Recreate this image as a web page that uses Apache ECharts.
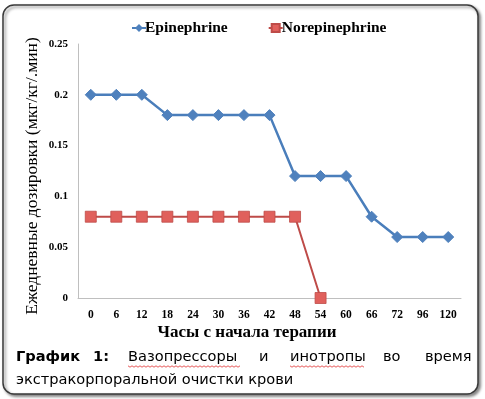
<!DOCTYPE html>
<html><head><meta charset="utf-8">
<script src="https://cdn.jsdelivr.net/npm/echarts@6/dist/echarts.min.js"></script>
<style>html,body{margin:0;padding:0;background:#fff;}#c{width:485px;height:399px;}</style>
</head><body><div id="c"></div>
<script>
const categories = ['0','6','12','18','24','30','36','42','48','54','60','66','72','96','120'];
const epinephrine = [0.2,0.2,0.2,0.18,0.18,0.18,0.18,0.18,0.12,0.12,0.12,0.08,0.06,0.06,0.06];
const norepinephrine = [0.08,0.08,0.08,0.08,0.08,0.08,0.08,0.08,0.08,0,'-','-','-','-','-'];
const yTicks = [0,0.05,0.1,0.15,0.2,0.25];
const seriesNames = ['Epinephrine','Norepinephrine'];
const xTitle = 'Часы с начала терапии';
const yTitle = 'Ежедневные дозировки (мкг/кг/.мин)';

const serif = '"Liberation Serif","Times New Roman",serif';
const sans = '"DejaVu Sans",Verdana,sans-serif';
const chart = echarts.init(document.getElementById('c'), null, {renderer:'canvas'});

function cap(text, x, y, bold) {
  return {type:'text', x:x, y:y, z:10, style:{text:text, fill:'#000', font:(bold?'bold ':'')+'14.6px '+sans, textVerticalAlign:'middle'}};
}
function wavy(x0, x1, y) {
  const pts = [];
  for (let x = x0, i = 0; x <= x1; x += 2, i++) pts.push([x, y + (i % 2 ? 1.2 : -0.2)]);
  return {type:'polyline', z:10, shape:{points:pts}, style:{stroke:'#e03030', lineWidth:0.8, fill:null}};
}

chart.setOption({
  animation:false,
  backgroundColor:'#fff',
  grid:{left:78, right:24, top:44, bottom:101, containLabel:false},
  legend:{
    data:seriesNames, left:126, top:15, itemWidth:14, itemHeight:10, itemGap:40,
    textStyle:{fontFamily:serif, fontWeight:'bold', fontSize:15.5, color:'#000', padding:[0,0,0,-6]}
  },
  xAxis:{
    type:'category', data:categories, boundaryGap:true,
    axisLine:{lineStyle:{color:'#bfbfbf', width:1}},
    axisTick:{show:false},
    axisLabel:{color:'#000', fontFamily:serif, fontWeight:'bold', fontSize:11.5, margin:11, interval:0}
  },
  yAxis:{
    type:'value', min:yTicks[0], max:yTicks[yTicks.length-1], interval:0.05,
    axisLine:{show:true, lineStyle:{color:'#bfbfbf', width:1}},
    axisTick:{show:false},
    splitLine:{show:false},
    axisLabel:{color:'#000', fontFamily:serif, fontWeight:'bold', fontSize:11, margin:10}
  },
  series:[
    {name:seriesNames[0], type:'line', data:epinephrine, symbol:'diamond', symbolSize:[11,11],
     lineStyle:{color:'#4a7ebb', width:2.5}, itemStyle:{color:'#4f81bd', borderColor:'#4f81bd'}, z:3},
    {name:seriesNames[1], type:'line', data:norepinephrine, symbol:'rect', symbolSize:[11,11],
     lineStyle:{color:'#be4b48', width:2}, itemStyle:{color:'#e0605c', borderColor:'#be4b48', borderWidth:0.8}, z:2}
  ],
  graphic:[
    {type:'rect', z:-10, shape:{x:3, y:5, width:475, height:389, r:11},
     style:{fill:'#fff', stroke:'#3a3a3a', lineWidth:1.5, shadowBlur:3, shadowOffsetX:2, shadowOffsetY:2, shadowColor:'rgba(0,0,0,0.45)'}},
    {type:'text', x:247, y:333, z:10, style:{text:xTitle, fill:'#000', font:'bold 17px '+serif, textAlign:'center', textVerticalAlign:'middle'}},
    {type:'text', x:32, y:176, rotation:Math.PI/2, z:10, style:{text:yTitle, fill:'#000', font:'17.5px '+serif, textAlign:'center', textVerticalAlign:'middle'}},
    cap('График', 16, 357, true),
    cap('1:', 93, 357, true),
    cap('Вазопрессоры', 128, 357, false),
    cap('и', 259, 357, false),
    cap('инотропы', 290, 357, false),
    cap('во', 383, 357, false),
    cap('время', 425, 357, false),
    cap('экстракорпоральной очистки крови', 16, 380, false),
    wavy(128, 240, 366),
    wavy(290, 365, 366)
  ]
});
</script></body></html>
